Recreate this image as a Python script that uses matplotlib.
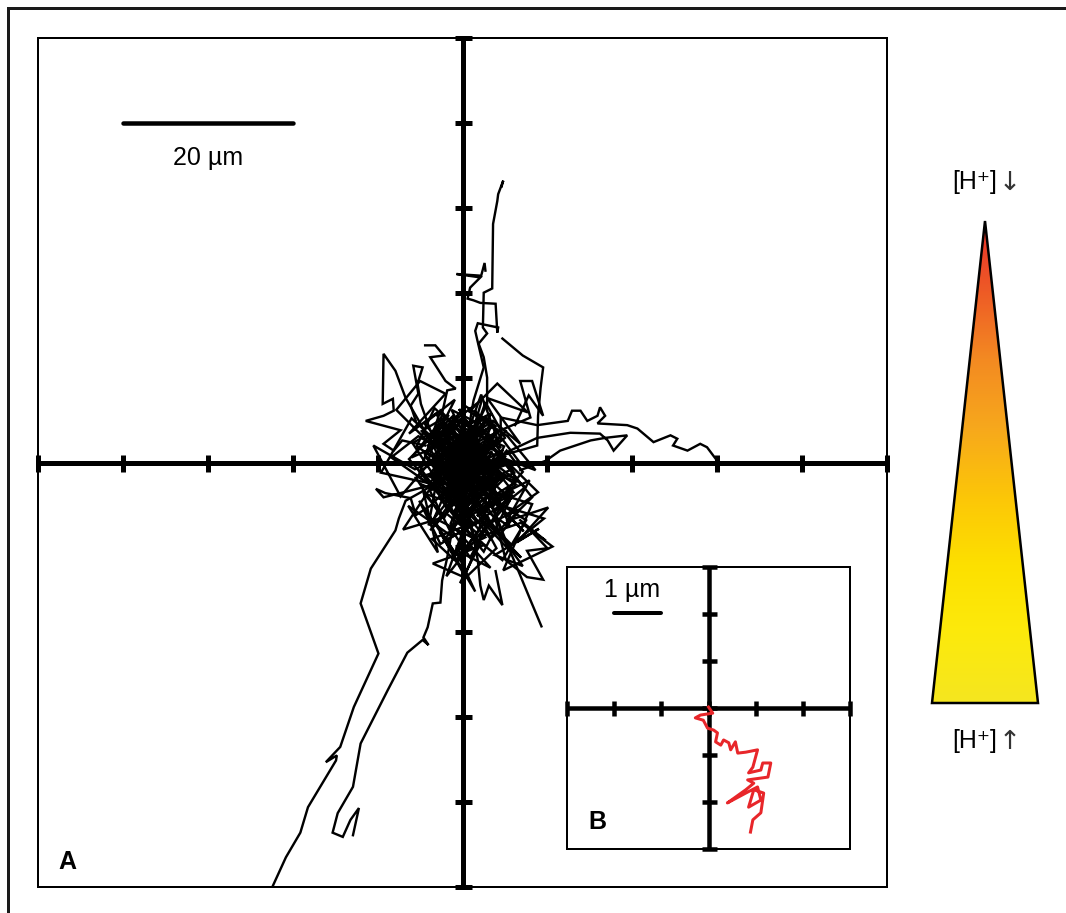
import matplotlib
matplotlib.use("Agg")
import matplotlib.pyplot as plt
import numpy as np
from matplotlib.patches import Polygon
from matplotlib.lines import Line2D
from matplotlib.colors import LinearSegmentedColormap

plt.rcParams['font.family'] = ['Liberation Sans', 'DejaVu Sans']

# ---------------------------------------------------------------
# Panel A: cell trajectories (µm), all starting near the origin
# ---------------------------------------------------------------
sw_left_x = [0.0, -0.8, -2.6, -4.9, -6.7, -7.5, -7.9, -10.8, -12.0, -9.9, -12.8,
             -14.4, -16.1, -14.8, -14.9, -18.2, -19.1, -20.8, -22.4, -23.5]
sw_left_y = [0.0, -0.9, -2.1, -3.5, -4.5, -6.6, -8.0, -12.5, -16.6, -22.5, -28.8,
             -33.5, -35.3, -34.5, -35.1, -40.6, -43.6, -46.5, -50.0, -52.7]

sw_right_x = [0.0, 0.4, -0.8, -1.8, -2.4, -2.6, -3.5, -4.1, -4.6, -4.0, -4.7, -6.5,
              -8.8, -12.0, -12.9, -14.7, -15.3, -14.1, -13.2, -12.2, -12.9]
sw_right_y = [0.0, -2.1, -5.6, -11.2, -13.9, -16.5, -16.6, -19.4, -20.6, -21.5, -20.9,
              -22.4, -26.8, -33.1, -38.2, -41.3, -43.6, -44.1, -42.1, -40.7, -43.9]

north_x = [0.4, 0.9, 2.1, 2.9, 2.9, 2.5, 1.9, 2.9, 2.4, 2.5, 3.5, 3.6, 4.1, 4.2, 4.8, 4.6]
north_y = [0.8, 2.6, 5.3, 6.9, 10.0, 12.4, 14.0, 15.2, 15.9, 20.0, 20.5, 28.1, 30.8,
           31.6, 33.2, 32.5]

north2_x = [-0.2, 0.7, 1.3, 2.5, 1.75, 1.5, 1.8, 4.2, 4.1, 3.9, 2.1, 1.3, 0.6, 0.9,
            2.1, -0.7, 2.2, 2.6, 2.7]
north2_y = [0.8, 3.8, 7.3, 11.2, 14.4, 15.5, 16.4, 15.9, 15.3, 18.7, 18.8, 19.1, 19.3,
            20.6, 21.8, 22.2, 22.0, 23.5, 22.6]

ne_x = [2.1, 4.5, 7.4, 8.8, 8.9, 9.2, 9.5, 7.1, 4.7]
ne_y = [-0.9, 0.8, 1.6, 2.0, 5.5, 8.8, 11.2, 12.6, 14.6]

ne2_x = [0.9, 4.5, 8.0, 6.8, 8.2, 9.5, 7.8, 6.2]
ne2_y = [1.4, 3.8, 5.3, 9.6, 9.6, 5.5, 7.9, 4.4]

east_x = [0.9, 4.5, 4.5, 8.8, 12.4, 12.9, 13.9, 14.7, 15.9, 16.2, 16.8, 15.9, 19.4,
          20.6, 22.5, 24.5, 25.3, 24.8, 26.5, 28.0, 28.8, 30.0]
east_y = [0.2, 2.6, 5.3, 4.4, 4.9, 6.1, 6.1, 4.9, 5.5, 6.5, 5.5, 4.6, 4.4, 4.0, 2.4,
          3.2, 2.8, 2.0, 1.4, 2.2, 1.8, 0.2]

east2_x = [1.5, 5.6, 8.8, 12.7, 16.2, 17.1, 17.8, 19.4, 16.8, 15.1, 11.5, 9.8, 6.8]
east2_y = [-0.9, 1.4, 2.9, 3.5, 3.4, 2.6, 1.4, 3.2, 2.9, 2.6, 1.4, 0.2, -0.9]

nw_x = [-0.8, -3.8, -6.7, -7.9, -9.3, -9.4, -8.2, -8.1, -9.3, -11.4, -7.3, -9.3, -8.1,
        -7.1, -4.4]
nw_y = [0.2, 2.6, 7.6, 10.8, 12.8, 6.9, 7.5, 6.1, 5.5, 4.9, 3.8, 2.2, 1.4, 2.6, 2.0]

nw2_x = [-1.4, -2.6, -1.8, -0.8, -2.0, -3.8, -2.2, -3.2, -4.4]
nw2_y = [0.8, 4.9, 8.5, 8.7, 9.6, 12.4, 12.6, 13.8, 13.8]

nw3_x = [-0.8, -3.8, -4.9, -5.3, -4.7, -5.8, -5.2, -6.1, -5.5]
nw3_y = [-0.9, 3.8, 6.9, 9.3, 11.2, 11.4, 8.1, 6.7, 4.9]

west_x = [-0.2, -3.8, -7.3, -9.3, -10.2, -9.1, -6.1, -5.5, -3.8, -2.0]
west_y = [-0.9, -2.7, -3.6, -4.1, -3.1, -3.6, -4.2, -6.2, -5.1, -3.3]

se_x = [0.4, 3.3, 5.1, 6.8, 8.0, 9.3]
se_y = [-0.9, -4.5, -9.2, -13.3, -16.2, -19.3]

se2_x = [0.9, 3.9, 5.1, 7.6, 9.5, 7.6, 10.0, 8.0, 9.8, 6.8]
se2_y = [-2.1, -6.8, -11.5, -13.5, -13.8, -10.4, -10.1, -8.0, -9.2, -6.8]

south_x = [0.0, 0.9, 1.8, 2.1, 2.5, 3.1, 4.7, 3.9]
south_y = [-2.1, -6.8, -11.5, -14.5, -16.2, -14.5, -16.8, -12.8]

# medium-range tracks around the core
mid1_x = [0.0, -5.2, -8.4, -4.1, -9.6, -6.0, -2.3, -7.3, -10.5, -5.6, -1.8]
mid1_y = [0.0, 3.1, 0.6, -2.4, -1.2, 5.2, 1.8, -4.0, 2.0, -0.8, 1.0]
mid2_x = [0.5, 4.3, 7.9, 5.2, 10.1, 6.4, 9.0, 3.8, 7.1, 1.9]
mid2_y = [-0.4, -3.9, -2.1, -6.9, -5.3, -9.4, -7.8, -10.9, -12.2, -5.0]
mid3_x = [-0.3, -1.9, 2.6, -3.5, 0.4, -2.7, 1.5, -0.8, 3.3, -1.4, 0.6]
mid3_y = [-0.5, -6.0, -9.7, -11.9, -13.6, -8.1, -15.2, -10.3, -12.4, -7.2, -2.5]
mid4_x = [0.2, 3.6, 6.8, 2.9, 7.7, 4.1, 0.8, 5.3, 8.6, 3.0]
mid4_y = [0.4, 4.9, 2.2, 7.6, 5.9, 9.3, 6.0, 3.1, -0.9, 1.2]
mid5_x = [-0.4, -3.1, -6.3, -2.0, -5.0, -7.8, -3.6, -0.9, -4.5, -1.5]
mid5_y = [0.3, 5.8, 3.4, 8.1, 9.6, 6.2, 2.0, 7.4, 4.6, 1.1]
mid6_x = [0.6, 5.5, 1.9, 6.9, 10.6, 4.8, 8.2, 2.4]
mid6_y = [-1.2, -4.6, -8.8, -7.1, -9.9, -12.7, -4.9, -3.1]

# dense core of short, jittery tracks
core1_x = [0.3, -1.8, 1.2, -2.5, 0.8, 3.1, -0.6, 2.2, -3.4, 1.5, -1.1, 2.8, 0.2, -2.9, 1.9,
           4.2, 0.6, -1.5, 3.3, -0.4, 1.6, -3.1, 0.9, 2.5, -1.9, 0.4, 3.6, -0.8, 1.3, -2.2, 0.7]
core1_y = [0.1, 1.4, -1.2, 0.6, 2.3, -0.5, -2.6, 1.1, -0.9, -3.2, 0.4, 2.0, -1.7, -0.2, -3.9,
           -1.4, 1.6, -2.8, 0.9, -4.5, -1.0, -2.1, 3.0, -0.6, -3.4, -5.2, -2.3, 0.8, -1.9, -3.6, -0.3]
core2_x = [-0.5, 1.7, -2.1, 0.4, -3.6, -1.2, 2.0, -0.9, -4.1, -2.4, 0.9, -1.6, 1.4, -3.0, -0.3,
           2.6, -1.4, -3.8, 0.5, -2.0, 1.0, -0.7, 3.0, -2.6, -0.1, 1.8, -1.3, -4.4, -0.6, 2.1, 0.0]
core2_y = [-0.4, 2.5, 1.0, 3.4, 0.2, -1.8, 1.5, 4.1, 2.0, -0.6, -2.2, -4.3, -1.0, -2.9, -5.6,
           -3.1, 0.3, -1.5, -3.7, 2.8, 0.0, -6.4, -4.0, -2.4, 1.8, -1.2, 3.6, 0.9, -3.3, -5.0, -1.4]
core3_x = [0.6, 2.9, 1.1, 4.6, 2.4, 5.8, 3.0, 0.8, 3.9, 6.4, 2.1, 4.4, 1.6, 5.2, 7.1, 3.5, 1.2,
           4.8, 2.6, 6.0, 0.5, 3.2, 5.5, 1.9, 4.1, 0.9]
core3_y = [0.0, 1.8, -1.3, 0.5, -2.4, -0.8, 2.6, -0.3, -3.8, -2.2, -0.9, -4.6, -2.7, 1.4, -1.1,
           -5.3, -3.0, -1.6, 0.8, -3.5, -6.1, -2.0, -4.2, -7.0, -3.9, -1.8]
core4_x = [0.0, -1.1, 1.3, -0.4, 2.1, -1.8, 0.7, -0.9, 1.8, -2.3, 0.3, 2.7, -0.6, 1.1, -1.5,
           0.9, 3.2, -0.2, 1.6, -1.0, 0.4]
core4_y = [-0.5, -2.6, -4.1, -6.3, -3.5, -5.0, -8.2, -4.4, -7.1, -9.3, -6.0, -8.8, -10.4, -5.7,
           -7.6, -11.2, -6.9, -3.2, -9.5, -2.0, -1.0]
core5_x = [-0.2, -2.5, -0.9, -3.9, -1.6, -4.8, -2.2, 0.4, -3.3, -5.4, -1.3, -3.0, -0.5, -4.2,
           -2.7, -6.0, -1.9, -3.6, 0.6, -2.4, -0.8]
core5_y = [0.3, 2.1, 4.3, 2.9, 5.6, 3.7, 1.2, 3.0, 6.4, 1.9, -0.8, 3.8, 1.6, -0.4, 4.7, 0.6,
           2.4, -1.9, 0.9, 5.1, 0.0]
core6_x = [0.4, 1.9, 0.2, 3.1, 1.4, 4.0, 2.3, 0.6, 3.4, 1.0, 2.7, 5.0, 1.8, 3.6, 0.3, 2.2, 4.5,
           1.2, -0.4, 2.8, 0.5]
core6_y = [0.6, 3.3, 5.2, 2.4, 6.1, 3.9, 1.0, 4.4, 5.8, 2.2, 7.1, 2.9, 0.4, 4.9, 2.7, 8.0, 1.7,
           3.6, 6.3, 0.8, -0.3]
core7_x = [0.1, -3.2, -1.0, -4.6, -2.1, -0.2, -3.8, -1.5, 1.2, -2.6, -5.1, -0.8, -3.4, -1.7,
           0.5, -2.9, -4.0, -1.2, -0.1]
core7_y = [-0.8, -2.2, -4.9, -3.6, -6.4, -3.1, -8.0, -5.5, -7.3, -9.6, -4.5, -10.8, -6.7, -2.8,
           -5.2, -1.3, -7.4, -3.9, -1.5]
core8_x = [0.2, 2.4, 4.1, 1.7, 5.9, 3.3, 6.8, 4.5, 2.0, 5.4, 3.0, 7.5, 4.7, 1.5, 3.8, 0.7]
core8_y = [0.2, -2.1, -4.3, -5.8, -3.2, -7.1, -5.5, -8.4, -6.6, -10.2, -4.0, -6.8, -11.5, -8.9,
           -3.0, -0.9]
core9_x = [0.5, -1.4, 2.3, -0.7, 1.6, -2.8, 0.9, 3.5, -1.2, 2.0, -0.3, 4.3, 1.1, -2.0, 2.9,
           0.2, -1.6, 3.8, 1.4, -0.5]
core9_y = [-0.3, 1.9, 0.7, -1.6, 3.2, 0.4, -2.9, 1.3, -0.9, -4.4, 2.6, -1.9, -3.4, -0.6, -2.3,
           4.0, -2.5, 0.1, -5.1, 0.5]
core10_x = [-0.3, -2.7, -0.1, -3.5, -1.4, 1.1, -2.2, 0.3, -4.0, -1.8, 0.8, -2.9, -0.4, 2.0,
            -1.1, -3.3, 0.6, -1.9]
core10_y = [0.2, -1.1, 2.8, 0.9, -2.7, 0.1, 3.7, -3.6, -1.6, 1.4, -4.8, -2.4, 3.1, -1.3, -5.9,
            -0.2, 2.0, -3.8]
core11_x = [1.0, 3.4, 0.4, 2.6, 5.1, 1.3, 3.9, -0.8, 2.2, 4.7, 0.9, 2.9, 6.3, 1.7, 4.0, 0.3]
core11_y = [0.4, 2.4, -0.7, -3.1, 0.8, -2.0, 3.5, 1.1, -5.2, -1.4, 2.9, -0.4, -2.6, -6.3,
            -4.5, -2.2]
core12_x = [-0.6, 1.5, -1.9, 0.2, -3.0, -0.5, 1.9, -1.3, 0.7, -2.4, 1.2, -0.9, 2.4, -1.6, 0.1]
core12_y = [0.7, 3.9, 2.6, 5.4, 3.3, 1.5, 4.6, 6.2, 2.2, 4.1, 0.3, -2.0, 1.7, -0.7, -1.2]
core13_x = [0.5, 4.8, 1.2, 6.1, 2.7, -1.9, 3.9, 7.4, 2.0, 5.6, -0.8, 3.3, 8.2, 4.4, 0.9, 5.9,
            2.5, -2.3, 1.8]
core13_y = [-1.0, 1.5, -3.6, -1.2, 3.9, -0.4, -5.7, -2.9, 1.2, -7.6, -3.3, -9.0, -4.1, 0.6,
            -6.2, -3.8, -10.5, -4.7, -2.2]
core14_x = [-0.4, -4.4, -1.3, -5.9, -3.0, 0.9, -4.8, -2.1, -6.3, -1.0, -3.7, 1.5, -2.6, -5.2,
            0.2, -3.4, -0.9]
core14_y = [-0.2, 1.1, 4.7, 2.3, -2.1, 3.2, -0.9, -4.6, 0.4, 5.6, -3.3, 1.9, 6.1, -1.7, -5.3,
            2.6, 0.3]
core15_x = [0.0, 2.8, -1.5, 3.9, 0.4, -3.1, 1.9, 5.2, -0.6, 2.3, -2.2, 4.1, 1.0, -1.2, 3.0,
            6.6, 1.5]
core15_y = [0.0, 5.4, 2.0, 4.3, 6.6, 2.9, 0.6, 3.8, -2.4, 7.4, 4.0, 1.3, -3.9, 1.7, 5.0, 0.2,
            -1.5]
core16_x = [0.3, -2.1, 1.7, -0.8, 3.1, -3.6, 0.5, 2.6, -1.9, 1.2, 4.0, -0.3, 2.2, -2.8, 0.8]
core16_y = [-0.6, -5.1, -8.3, -11.6, -6.4, -9.0, -12.8, -7.7, -13.4, -4.9, -10.1, -14.2, -9.4,
            -6.8, -3.0]
core17_x = [1.2, 6.4, 3.5, 8.9, 5.1, 2.0, 7.2, 4.0, 9.6, 5.8, 1.6, 6.9, 3.1]
core17_y = [-0.3, -1.9, 1.8, -3.5, -6.2, -2.7, -8.1, -4.9, -6.6, -9.7, -5.6, -11.2, -7.4]
core18_x = [-0.7, -5.5, -2.4, -7.0, -3.9, -1.1, -6.4, -2.9, -4.8, -0.5]
core18_y = [-0.5, -1.8, -6.5, -7.9, -3.2, -8.8, -5.1, -10.6, -2.6, -4.4]
core19_x = [0.1, 3.7, -2.6, 2.4, -3.9, 1.6, 4.9, -1.5, 2.9, -4.3, 0.8, 3.9, -2.0, 1.2]
core19_y = [0.1, -1.6, 2.7, 3.8, -2.4, -4.9, 1.9, 4.8, -3.7, 0.6, -5.9, -0.7, -4.4, 2.2]
core20_x = [-0.2, 2.1, -3.3, 4.2, -1.2, 3.4, -4.0, 0.3, 5.0, -2.5, 1.8, -1.0]
core20_y = [0.4, -4.1, -1.3, 2.8, 5.0, -3.0, 3.3, -6.5, -1.8, -4.3, 4.4, -2.1]

main_ticks = [-50, -40, -30, -20, -10, 0, 10, 20, 30, 40, 50]

# ---------------------------------------------------------------
# Panel B: single trajectory (µm)
# ---------------------------------------------------------------
single_x = [0.0, 0.09, -0.17, -0.28, -0.11, -0.02, 0.11, 0.19, 0.15, 0.26, 0.32, 0.43, 0.47,
            0.57, 0.62, 0.79, 1.04, 0.94, 0.85, 1.11, 1.15, 1.32, 1.26, 0.83, 0.96, 0.79,
            0.40, 0.79, 1.04, 1.11, 0.85, 0.96, 1.17, 1.11, 0.94, 0.89]
single_y = [0.02, -0.11, -0.15, -0.21, -0.26, -0.43, -0.47, -0.53, -0.72, -0.79, -0.68, -0.74,
            -0.89, -0.72, -0.96, -0.94, -0.89, -1.26, -1.38, -1.32, -1.17, -1.17, -1.47, -1.53,
            -1.60, -1.74, -2.02, -1.81, -1.68, -1.96, -2.11, -1.74, -1.81, -2.23, -2.38, -2.64]
inset_ticks = [-3, -2, -1, 0, 1, 2, 3]

# proton gradient colours, apex (low [H+]) to base
gradient_colors = ['#e8302a', '#ee5a26', '#f38a22', '#f7a81c', '#fcc608', '#fde000',
                   '#fcea0c', '#f5e620']

# ---------------------------------------------------------------
W, H, DPI = 1066, 913, 100
fig = plt.figure(figsize=(W / DPI, H / DPI), dpi=DPI)
PX = 72.0 / DPI  # points per pixel

# outer frame lines
fig.add_artist(Line2D([8 / W, 8 / W], [0, 1 - 8 / H], color='#1a1a1a', lw=3 * PX,
                      transform=fig.transFigure))
fig.add_artist(Line2D([8 / W, 1], [1 - 8 / H, 1 - 8 / H], color='#1a1a1a', lw=3 * PX,
                      transform=fig.transFigure))

# ---- panel A
ax = fig.add_axes([38 / W, 1 - 887 / H, 849 / W, 849 / H])
ax.set_xlim(-50, 50)
ax.set_ylim(-50, 50)
ax.set_xticks([])
ax.set_yticks([])
for s in ax.spines.values():
    s.set_linewidth(2 * PX)
    s.set_zorder(5)

ax.axhline(0, color='k', lw=5 * PX, zorder=1)
ax.axvline(0, color='k', lw=5 * PX, zorder=1)
ax.plot(main_ticks, [0] * len(main_ticks), ls='none', marker='|', ms=17 * PX,
        mew=5 * PX, color='k', clip_on=False, zorder=1)
ax.plot([0] * len(main_ticks), main_ticks, ls='none', marker='_', ms=17 * PX,
        mew=5 * PX, color='k', clip_on=False, zorder=1)

tracks = [
    (sw_left_x, sw_left_y), (sw_right_x, sw_right_y), (north_x, north_y),
    (north2_x, north2_y), (ne_x, ne_y), (ne2_x, ne2_y), (east_x, east_y),
    (east2_x, east2_y), (nw_x, nw_y), (nw2_x, nw2_y), (nw3_x, nw3_y),
    (west_x, west_y), (se_x, se_y), (se2_x, se2_y), (south_x, south_y),
    (mid1_x, mid1_y), (mid2_x, mid2_y), (mid3_x, mid3_y), (mid4_x, mid4_y),
    (mid5_x, mid5_y), (mid6_x, mid6_y),
    (core1_x, core1_y), (core2_x, core2_y), (core3_x, core3_y), (core4_x, core4_y),
    (core5_x, core5_y), (core6_x, core6_y), (core7_x, core7_y), (core8_x, core8_y),
    (core9_x, core9_y), (core10_x, core10_y), (core11_x, core11_y), (core12_x, core12_y),
    (core13_x, core13_y), (core14_x, core14_y), (core15_x, core15_y), (core16_x, core16_y),
    (core17_x, core17_y), (core18_x, core18_y), (core19_x, core19_y), (core20_x, core20_y),
]
for tx, ty in tracks:
    ax.plot(tx, ty, color='k', lw=2.4 * PX, zorder=2, solid_joinstyle='miter')

# scale bar
ax.plot([-40, -20], [40, 40], color='k', lw=4.5 * PX, solid_capstyle='round', zorder=3)
ax.text(-30, 35.9, '20 µm', ha='center', va='center', fontsize=18)
ax.text(-46.5, -47.0, 'A', ha='center', va='center', fontsize=18, fontweight='bold')

# ---- panel B
bx = fig.add_axes([567 / W, 1 - 849 / H, 283 / W, 282 / H])
bx.set_xlim(-3, 3)
bx.set_ylim(-3, 3)
bx.set_xticks([])
bx.set_yticks([])
for s in bx.spines.values():
    s.set_linewidth(2 * PX)
    s.set_zorder(5)
bx.axhline(0, color='k', lw=4.5 * PX, zorder=1)
bx.axvline(0, color='k', lw=4.5 * PX, zorder=1)
bx.plot(inset_ticks, [0] * len(inset_ticks), ls='none', marker='|', ms=15 * PX,
        mew=4.5 * PX, color='k', clip_on=False, zorder=1)
bx.plot([0] * len(inset_ticks), inset_ticks, ls='none', marker='_', ms=15 * PX,
        mew=4.5 * PX, color='k', clip_on=False, zorder=1)
bx.plot(single_x, single_y, color='#e8262a', lw=3 * PX, zorder=3)
bx.plot([-2, -1], [2.02, 2.02], color='k', lw=4 * PX, solid_capstyle='round')
bx.text(-1.62, 2.5, '1 µm', ha='center', va='center', fontsize=18)
bx.text(-2.36, -2.43, 'B', ha='center', va='center', fontsize=18, fontweight='bold')

# ---- proton gradient wedge
gx = fig.add_axes([932 / W, 1 - 703 / H, 106 / W, 482 / H])
gx.set_xlim(0, 1)
gx.set_ylim(0, 1)
gx.axis('off')
cmap = LinearSegmentedColormap.from_list('hplus', gradient_colors[::-1])
grad = np.linspace(0, 1, 256).reshape(-1, 1)
img = gx.imshow(grad, extent=[0, 1, 0, 1], origin='lower', aspect='auto', cmap=cmap)
wedge = Polygon([[0, 0], [1, 0], [0.5, 1]], closed=True, facecolor='none',
                edgecolor='k', lw=2.5 * PX, joinstyle='miter', clip_on=False)
gx.add_patch(wedge)
img.set_clip_path(wedge)

for py, arrow in ((182, '↓'), (741, '↑')):
    fig.text(975 / W, 1 - py / H, '[H⁺]', ha='center', va='center', fontsize=18)
    fig.text(1010 / W, 1 - (py + 1) / H, arrow, ha='center', va='center', fontsize=19,
             family='DejaVu Sans', color='#333333')

fig.savefig('out.png', dpi=DPI)
